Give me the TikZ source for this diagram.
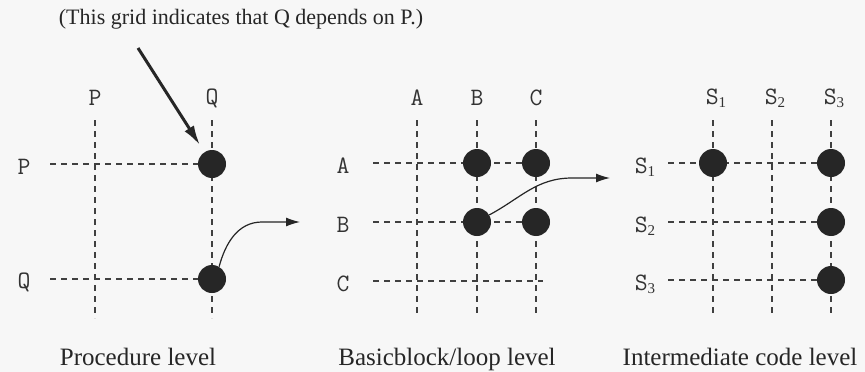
\documentclass[tikz,border=0pt]{standalone}
\usepackage{fontspec}
\setmainfont{Liberation Serif}
\usetikzlibrary{arrows.meta}

% subscripted statement name, S_1 etc.
\newcommand{\stmt}[1]{S\raisebox{-0.3ex}{\rmfamily\fontsize{15}{15}\selectfont #1}}

\tikzset{
  gridline/.style={dash pattern=on 6pt off 5pt, line width=1.3pt, black!75},
  dep/.style={circle, fill=black!85, inner sep=0pt, minimum size=28pt},
  lbl/.style={font=\ttfamily\fontsize{25}{25}\selectfont, inner sep=0pt, text=black!80},
  caption/.style={font=\fontsize{25}{25}\selectfont, inner sep=0pt, anchor=base, text=black!85},
  flow/.style={-{Latex[length=14pt,width=9pt]}, line width=1.2pt, black!85},
  pointer/.style={-{Latex[length=20pt,width=11pt]}, line width=3pt, black!85},
}

\begin{document}
\begin{tikzpicture}[x=1pt,y=-1pt]
  \fill[black!3] (0,0) rectangle (865,372);
  \useasboundingbox (0,0) rectangle (865,372);

  % --- Note at the top ---
  \node[font=\fontsize{22}{22}\selectfont, inner sep=0pt, anchor=base, text=black!85]
    (note) at (241,24) {(This grid indicates that Q depends on P.)};
  \coordinate (tail) at (138,48);

  % --- Procedure level ---
  \foreach \x/\name in {95/P,212/Q} {
    \node[lbl] (pcol\name) at (\x,98) {\name};
    \coordinate (pc\name t) at (\x,120);
    \coordinate (pc\name b) at (\x,318);
    \draw[gridline] (pc\name t) -- (pc\name b);
  }
  \foreach \y/\name in {164/P,279/Q} {
    \node[lbl] (prow\name) at (24,\y+3) {\name};
    \coordinate (pr\name s) at (50,\y);
    \coordinate (pr\name e) at (212,\y);
    \draw[gridline] (pr\name s) -- (pr\name e);
  }
  \node[dep] (pPQ) at (212,164) {};
  \node[dep] (pQQ) at (212,279) {};
  \node[caption] (cap1) at (138,365) {Procedure level};

  % --- Basicblock/loop level ---
  \foreach \x/\name in {417/A,477/B,536/C} {
    \node[lbl] (bcol\name) at (\x,98) {\name};
    \coordinate (bc\name t) at (\x,120);
    \coordinate (bc\name b) at (\x,317);
    \draw[gridline] (bc\name t) -- (bc\name b);
  }
  \foreach \y/\name in {163/A,222/B,281/C} {
    \node[lbl] (brow\name) at (343,\y+3) {\name};
    \coordinate (br\name s) at (373,\y);
    \coordinate (br\name e) at (543,\y);
    \draw[gridline] (br\name s) -- (br\name e);
  }
  \node[dep] (bAB) at (477,163) {};
  \node[dep] (bAC) at (536,163) {};
  \node[dep] (bBB) at (477,222) {};
  \node[dep] (bBC) at (536,222) {};
  \node[caption] (cap2) at (447,365) {Basicblock/loop level};

  % --- Intermediate code level ---
  \foreach \x/\i in {713/1,772/2,831/3} {
    \node[lbl] (scol\i) at (\x+3,98) {\stmt{\i}};
    \coordinate (sc\i t) at (\x,120);
    \coordinate (sc\i b) at (\x,317);
    \draw[gridline] (sc\i t) -- (sc\i b);
  }
  \foreach \y/\i in {163/1,222/2,280/3} {
    \node[lbl] (srow\i) at (645,\y+4) {\stmt{\i}};
    \coordinate (sr\i s) at (668,\y);
    \coordinate (sr\i e) at (831,\y);
    \draw[gridline] (sr\i s) -- (sr\i e);
  }
  \node[dep] (s11) at (713,163) {};
  \node[dep] (s13) at (831,163) {};
  \node[dep] (s23) at (831,222) {};
  \node[dep] (s33) at (831,280) {};
  \node[caption] (cap3) at (740,365) {Intermediate code level};

  % --- Arrows ---
  \draw[pointer, shorten >=8pt] (tail) -- (pPQ);

  \coordinate (bend1) at (262,222);
  \coordinate (tip1) at (300,222);
  \draw[flow] (pQQ.60) to[out=75,in=180] (bend1) -- (tip1);

  \coordinate (bend2) at (572,178);
  \coordinate (tip2) at (610,178);
  \draw[flow] (bBB.30) to[out=28,in=180] (bend2) -- (tip2);
\end{tikzpicture}
\end{document}
